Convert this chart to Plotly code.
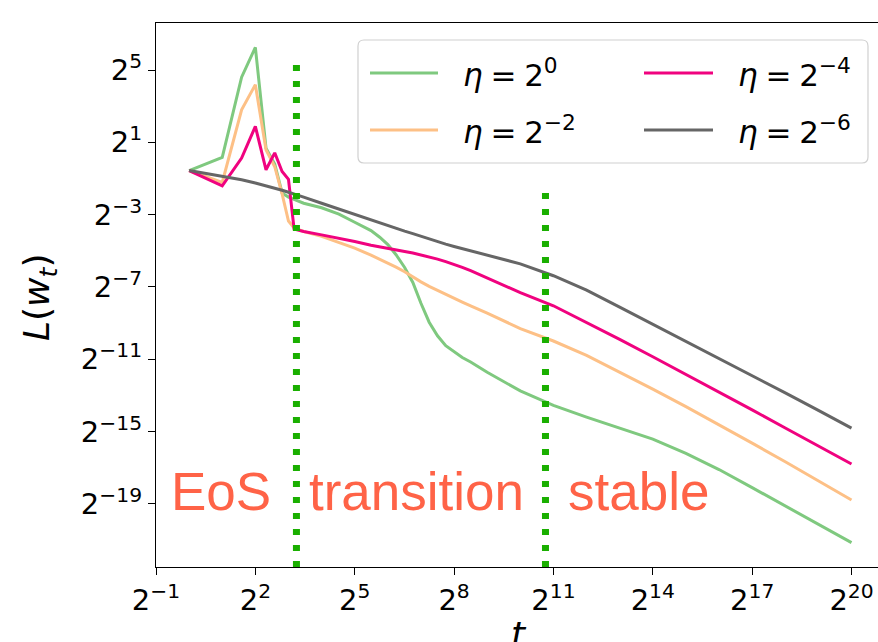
import math
import plotly.graph_objects as go

# ---------------- data ----------------
steps = [1, 2, 3, 4, 5, 6, 7, 8, 9, 11, 16, 23, 32, 45, 54, 64, 76, 91, 108, 128,
         152, 181, 215, 256, 304, 362, 512, 1024, 2048, 4096, 8192, 16384, 32768,
         65536, 131072, 262144, 524288, 1048576]

# loss values given as exponents of 2 (the axis is log2)
log2_loss_eta_0 = [-0.56, 0.17, 4.6, 6.25, 0.68, -0.2, -1.8, -2.03, -2.15, -2.37,
                   -2.62, -2.97, -3.42, -3.88, -4.25, -4.66, -5.22, -5.92, -6.75, -7.9,
                   -8.95, -9.7, -10.25, -10.6, -10.9, -11.15, -11.72, -12.75, -13.55,
                   -14.2, -14.8, -15.42, -16.2, -17.1, -18.1, -19.12, -20.13, -21.14]
log2_loss_eta_m2 = [-0.56, -1.22, 2.8, 4.19, 0.59, -0.35, -1.85, -3.35, -3.74, -3.93,
                    -4.2, -4.52, -4.85, -5.24, -5.46, -5.68, -5.9, -6.16, -6.45, -6.72,
                    -6.97, -7.2, -7.42, -7.62, -7.84, -8.05, -8.45, -9.3, -9.99, -10.78,
                    -11.7, -12.65, -13.62, -14.62, -15.64, -16.67, -17.72, -18.78]
log2_loss_eta_m4 = [-0.56, -1.41, 0.13, 1.88, -0.52, 0.42, -0.61, -1.05, -3.8, -3.93,
                    -4.12, -4.3, -4.49, -4.69, -4.79, -4.88, -4.96, -5.04, -5.12, -5.22,
                    -5.34, -5.46, -5.6, -5.75, -5.92, -6.1, -6.5, -7.31, -8.04, -8.96,
                    -9.9, -10.86, -11.83, -12.81, -13.8, -14.8, -15.8, -16.79]
log2_loss_eta_m6 = [-0.56, -0.89, -1.07, -1.25, -1.4, -1.53, -1.65, -1.76, -1.85, -2.03,
                    -2.37, -2.7, -3.0, -3.31, -3.46, -3.61, -3.76, -3.91, -4.05, -4.2,
                    -4.34, -4.49, -4.63, -4.76, -4.88, -5.0, -5.24, -5.72, -6.38, -7.18,
                    -8.12, -9.06, -10.0, -10.95, -11.9, -12.86, -13.83, -14.81]

series_names = ["η = 2^0", "η = 2^-2", "η = 2^-4", "η = 2^-6"]
series_labels = ["<i>η</i>\u2005=\u20052<sup>0</sup>", "<i>η</i>\u2005=\u20052<sup>−2</sup>",
                 "<i>η</i>\u2005=\u20052<sup>−4</sup>", "<i>η</i>\u2005=\u20052<sup>−6</sup>"]
series_colors = ["#7fc97f", "#fdc086", "#f0027f", "#666666"]
series_values = [log2_loss_eta_0, log2_loss_eta_m2, log2_loss_eta_m4, log2_loss_eta_m6]

# phase boundaries (step) and the top of each dotted marker (log2 loss)
phase_bounds = [9.45, 1734]
phase_tops_log2 = [5.46, -1.3]
phase_names = ["EoS", "transition", "stable"]

x_tick_exps = [-1, 2, 5, 8, 11, 14, 17, 20]
y_tick_exps = [5, 1, -3, -7, -11, -15, -19]

x_range_log2 = [-1, 20.8]
y_range_log2 = [-22.49, 7.60]

x_title = "<i>t</i>"
y_title = "<i>L</i>(<i>w</i><sub><i>t</i></sub>)"

# ---------------- figure ----------------
W, H = 878, 642
ML, MR, MT, MB = 156, 0, 23, 75
PW, PH = W - ML - MR, H - MT - MB
L2 = math.log10(2)


def px(xp):
    return (xp - ML) / PW


def py(yp):
    return (H - MB - yp) / PH


def sup(e):
    return "2<sup>" + str(e).replace("-", "−") + "</sup>"


fig = go.Figure()
for name, vals, color in zip(series_names, series_values, series_colors):
    fig.add_trace(go.Scatter(
        x=steps, y=[2.0 ** v for v in vals], mode="lines", name=name,
        line=dict(color=color, width=3), showlegend=False))

for b, top in zip(phase_bounds, phase_tops_log2):
    fig.add_trace(go.Scatter(
        x=[b, b], y=[2.0 ** y_range_log2[0], 2.0 ** top], mode="lines",
        line=dict(color="#1aaf00", width=7, dash="6px,10px"),
        showlegend=False, hoverinfo="skip"))

axis_common = dict(
    type="log", showgrid=False, zeroline=False, showline=True,
    linecolor="black", linewidth=1.3, ticks="outside", ticklen=7,
    tickwidth=1.3, tickcolor="black", automargin=False,
    tickfont=dict(family="DejaVu Sans", size=29, color="black"),
)

fig.update_layout(
    width=W, height=H,
    margin=dict(l=ML, r=MR, t=MT, b=MB, pad=0),
    paper_bgcolor="white", plot_bgcolor="white",
    showlegend=False,
    xaxis=dict(
        **axis_common,
        range=[x_range_log2[0] * L2, x_range_log2[1] * L2],
        tickvals=[2.0 ** e for e in x_tick_exps],
        ticktext=[sup(e) for e in x_tick_exps],
        mirror=True,
    ),
    yaxis=dict(
        **axis_common,
        range=[y_range_log2[0] * L2, y_range_log2[1] * L2],
        tickvals=[2.0 ** e for e in y_tick_exps],
        ticktext=[sup(e) for e in y_tick_exps],
    ),
)

# axis titles
fig.add_annotation(x=px(519), y=py(634), xref="paper", yref="paper", text=x_title,
                   showarrow=False, xanchor="center", yanchor="middle",
                   font=dict(family="DejaVu Sans", size=36, color="black"))
fig.add_annotation(x=px(39), y=py(297), xref="paper", yref="paper", text=y_title,
                   showarrow=False, xanchor="center", yanchor="middle", textangle=-90,
                   font=dict(family="DejaVu Sans", size=36, color="black"))

# phase labels
phase_text_x = [169, 307, 566]
for name, xp in zip(phase_names, phase_text_x):
    fig.add_annotation(
        x=px(xp), y=py(491), xref="paper", yref="paper", text=name,
        showarrow=False, xanchor="left", yanchor="middle",
        font=dict(family="Liberation Sans", size=53, color="#ff6347"))

# legend (drawn by hand to match the two-column layout)
bx0, by0, bx1, by1, r = 358, 40, 868, 163, 6
x0, x1, y0, y1 = px(bx0), px(bx1), py(by0), py(by1)
rx, ry = r / PW, r / PH
path = (f"M{x0 + rx},{y0} L{x1 - rx},{y0} Q{x1},{y0} {x1},{y0 - ry} "
        f"L{x1},{y1 + ry} Q{x1},{y1} {x1 - rx},{y1} L{x0 + rx},{y1} "
        f"Q{x0},{y1} {x0},{y1 + ry} L{x0},{y0 - ry} Q{x0},{y0} {x0 + rx},{y0} Z")
fig.add_shape(type="path", path=path, xref="paper", yref="paper",
              line=dict(color="#d0d0d0", width=1.2), fillcolor="rgba(255,255,255,0.8)",
              layer="above")
legend_slots = [(370, 438, 461, 73), (370, 438, 461, 130),
                (644, 713, 736, 73), (644, 713, 736, 130)]
for (lx0, lx1, tx, ly), label, color in zip(legend_slots, series_labels, series_colors):
    fig.add_shape(type="line", xref="paper", yref="paper",
                  x0=px(lx0), x1=px(lx1), y0=py(ly), y1=py(ly),
                  line=dict(color=color, width=3), layer="above")
    fig.add_annotation(x=px(tx), y=py(ly), xref="paper", yref="paper", text=label,
                       showarrow=False, xanchor="left", yanchor="middle",
                       font=dict(family="DejaVu Sans", size=31, color="black"))

fig.write_html(
    "out.html",
    config={"displayModeBar": False},
    post_script="document.body.style.margin='0';document.body.style.overflow='hidden';",
)
